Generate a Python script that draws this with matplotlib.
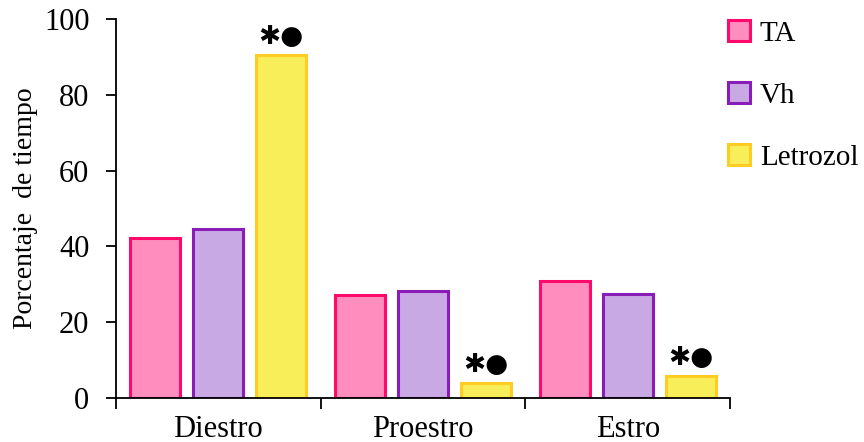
import matplotlib.pyplot as plt
import numpy as np

plt.rcParams['font.family'] = ['Liberation Serif', 'DejaVu Serif']

fases = ["Diestro", "Proestro", "Estro"]
grupos = ["TA", "Vh", "Letrozol"]
ta = [42.3, 27.2, 30.9]
vh = [44.5, 28.3, 27.5]
letrozol = [90.5, 4.0, 5.9]
marca = ["✱●", "✱●", "✱●"]

rellenos = ["#FF8DBD", "#C9A9E3", "#F8EE5A"]
bordes = ["#FF0A6A", "#8A1DB8", "#FFCC22"]

fig = plt.figure(figsize=(8.64, 4.42), dpi=100)
ax = fig.add_axes([0.134, 0.0995, 0.711, 0.8575])

x = np.arange(len(fases))
ancho = 0.244
paso = 0.307
for i, (vals, nombre) in enumerate(zip([ta, vh, letrozol], grupos)):
    ax.bar(x + (i - 1) * paso, vals, width=ancho, color=rellenos[i],
           edgecolor=bordes[i], linewidth=2.2, label=nombre)

for xi, v, m in zip(x, letrozol, marca):
    ax.text(xi + paso, v + 1.3, m, ha="center", va="bottom", fontsize=19,
            family=["DejaVu Sans"], color="black")

ax.set_xlim(-0.5, 2.5)
ax.set_ylim(0, 100)
ax.set_yticks([0, 20, 40, 60, 80, 100])
ax.set_xticks([-0.5, 0.5, 1.5, 2.5])
ax.set_xticklabels([])
ax.set_xticks(x, minor=True)
ax.set_xticklabels(fases, minor=True)
ax.tick_params(axis="x", which="major", direction="out", length=8, width=1.3)
ax.tick_params(axis="x", which="minor", length=0, pad=12, labelsize=22)
ax.tick_params(axis="y", direction="out", length=7, width=1.3, labelsize=22, pad=12)
for s in ["top", "right"]:
    ax.spines[s].set_visible(False)
for s in ["left", "bottom"]:
    ax.spines[s].set_linewidth(1.3)
ax.set_ylabel("Porcentaje  de tiempo", fontsize=20, labelpad=4)

fig.legend(loc="upper left", bbox_to_anchor=(0.812, 1.014), frameon=False,
           fontsize=21, handlelength=0.75, handleheight=0.75,
           labelspacing=1.2, handletextpad=0.35)

fig.savefig("out.png", dpi=100)
